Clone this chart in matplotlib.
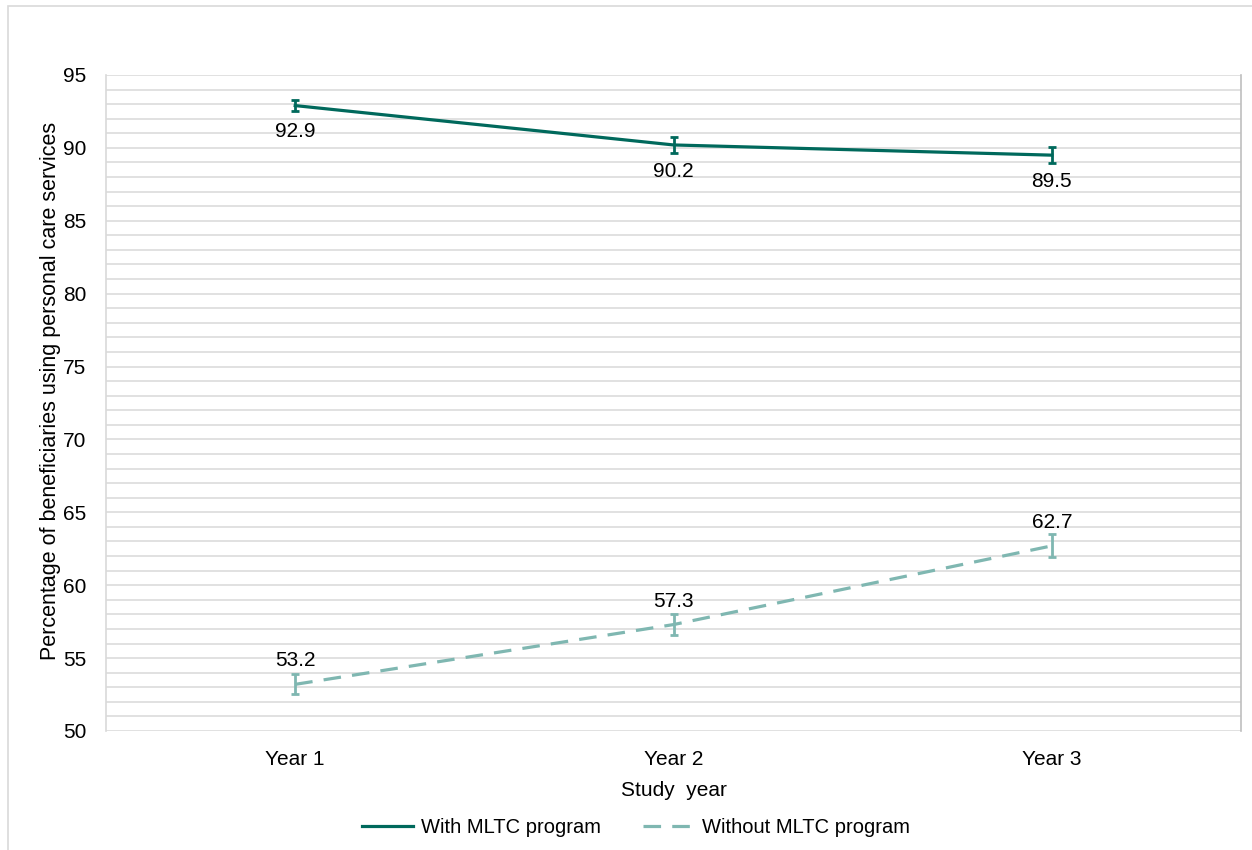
import numpy as np
import matplotlib
matplotlib.use('Agg')
import matplotlib.pyplot as plt
from matplotlib.patches import Rectangle

plt.rcParams['font.family'] = ['Liberation Sans', 'DejaVu Sans']

years = ['Year 1', 'Year 2', 'Year 3']
withMLTC = [92.9, 90.2, 89.5]
withErr = [0.38, 0.54, 0.57]
withoutMLTC = [53.2, 57.3, 62.7]
withoutErr = [0.69, 0.72, 0.79]

darkTeal = '#00695C'
lightTeal = '#7FB7B1'

fig = plt.figure(figsize=(12.52, 8.5), dpi=100)
ax = fig.add_axes([0.0847, 0.14, 0.9065, 0.7718])

x = np.arange(1, len(years) + 1)

# outer frame of the chart area
fig.patches.append(Rectangle((8 / 1252, -0.05), 1.1, 1 - 6 / 850 + 0.05,
                             transform=fig.transFigure, fill=False,
                             edgecolor='#D9D9D9', linewidth=1.2))

ax.errorbar(x, withMLTC, yerr=withErr, color=darkTeal, linewidth=2.3,
            elinewidth=2, capsize=3, capthick=2, label='With MLTC program', zorder=3)
ax.errorbar(x, withoutMLTC, yerr=withoutErr, color=lightTeal, linewidth=2.3,
            linestyle=(0, (5.5, 3.5)), elinewidth=2, capsize=3, capthick=2,
            label='Without MLTC program', zorder=3)

for xi, v in zip(x, withMLTC):
    ax.annotate(format(v, '.1f'), (xi, v), xytext=(0, -12), textcoords='offset points',
                ha='center', va='top', fontsize=15, color='#000000')
for xi, v in zip(x, withoutMLTC):
    ax.annotate(format(v, '.1f'), (xi, v), xytext=(0, 10), textcoords='offset points',
                ha='center', va='bottom', fontsize=15, color='#000000')

ax.set_xlim(0.5, 3.5)
ax.set_ylim(50, 95)
ax.set_xticks(x)
ax.set_xticklabels(years)
ax.set_yticks(np.arange(50, 96, 5))
ax.set_yticks(np.arange(50, 96, 1), minor=True)
ax.grid(axis='y', which='both', color='#D9D9D9', linewidth=1.1)
ax.set_axisbelow(True)
ax.tick_params(axis='both', which='both', length=0, labelsize=15, colors='#000000')
ax.tick_params(axis='x', pad=14)
ax.tick_params(axis='y', pad=14)

for s in ['top', 'bottom']:
    ax.spines[s].set_visible(False)
ax.spines['left'].set_color('#D9D9D9')
ax.spines['right'].set_color('#BFBFBF')
ax.spines['left'].set_linewidth(1.2)
ax.spines['right'].set_linewidth(1.2)

ax.set_xlabel('Study  year', fontsize=15, labelpad=8)
ax.set_ylabel('Percentage of beneficiaries using personal care services', fontsize=15.5)
ax.yaxis.set_label_coords(-0.040, 0.519)

handles, labels = ax.get_legend_handles_labels()
handles = [h[0] for h in handles]
fig.legend(handles, labels, loc='center', bbox_to_anchor=(0.508, 0.027), ncol=2,
           frameon=False, fontsize=14.5, handlelength=2.5, columnspacing=2.1,
           handletextpad=0.4)

plt.savefig('out.png', dpi=100)
